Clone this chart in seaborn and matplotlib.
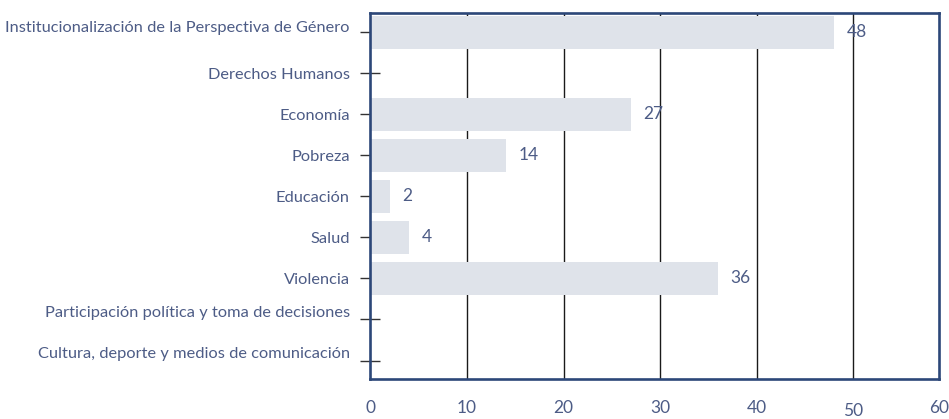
import matplotlib
matplotlib.use("Agg")
import matplotlib.pyplot as plt
import matplotlib.transforms as mtransforms
import seaborn as sns
import pandas as pd

categories = [
    "Institucionalización de la Perspectiva de Género",
    "Derechos Humanos",
    "Economía",
    "Pobreza",
    "Educación",
    "Salud",
    "Violencia",
    "Participación política y toma de decisiones",
    "Cultura, deporte y medios de comunicación",
]
values = [48, 0, 27, 14, 2, 4, 36, 0, 0]
value_labels = ["48", "", "27", "14", "2", "4", "36", "", ""]
x_ticks = [0, 10, 20, 30, 40, 50, 58.9]
x_tick_labels = ["0", "10", "20", "30", "40", "50", "60"]

sns.set_theme(style="white")
plt.rcParams['font.family'] = ['Lato', 'DejaVu Sans']

NAVY = "#2c4778"
TEXT = "#4d5c86"
BAR = "#dfe3ea"

df = pd.DataFrame({"cat": categories, "val": values})

fig = plt.figure(figsize=(9.49, 4.19), dpi=100)
ax = fig.add_axes([0.3904, 0.0955, 0.5991, 0.8735])

ax.set_axisbelow(True)
for g in [10, 20, 30, 40, 50]:
    ax.axvline(g, color="#1a1a1a", lw=1.0, zorder=0)

sns.barplot(data=df, x="val", y="cat", orient="h", color=BAR, width=0.8,
            saturation=1, ax=ax, zorder=2)
for p in ax.patches:
    p.set_edgecolor("none")

ax.bar_label(ax.containers[0], labels=value_labels, padding=9,
             color=TEXT, fontsize=12.5)

ax.set_xlim(0, 58.9)
ax.set_ylim(8.45, -0.47)
ax.set_xlabel("")
ax.set_ylabel("")
ax.set_xticks(x_ticks)
ax.set_xticklabels(x_tick_labels)
ax.tick_params(axis="x", length=0, pad=15, labelsize=12.5, labelcolor=TEXT)
ax.tick_params(axis="y", direction="inout", length=14, width=1.0,
               color="#333333", pad=8, labelsize=11.8, labelcolor=TEXT, left=True)

for s in ax.spines.values():
    s.set_color(NAVY)
    s.set_linewidth(1.9)
    s.set_visible(True)

offs = {0: 6, 7: 8, 8: 8}
for i, lab in enumerate(ax.get_yticklabels()):
    if i in offs:
        lab.set_transform(lab.get_transform() +
                          mtransforms.ScaledTranslation(0, offs[i] / 100, fig.dpi_scale_trans))
for i, lab in enumerate(ax.get_xticklabels()):
    if i == 5:
        lab.set_transform(lab.get_transform() +
                          mtransforms.ScaledTranslation(0, -3 / 100, fig.dpi_scale_trans))

fig.savefig("out.png", dpi=100)
